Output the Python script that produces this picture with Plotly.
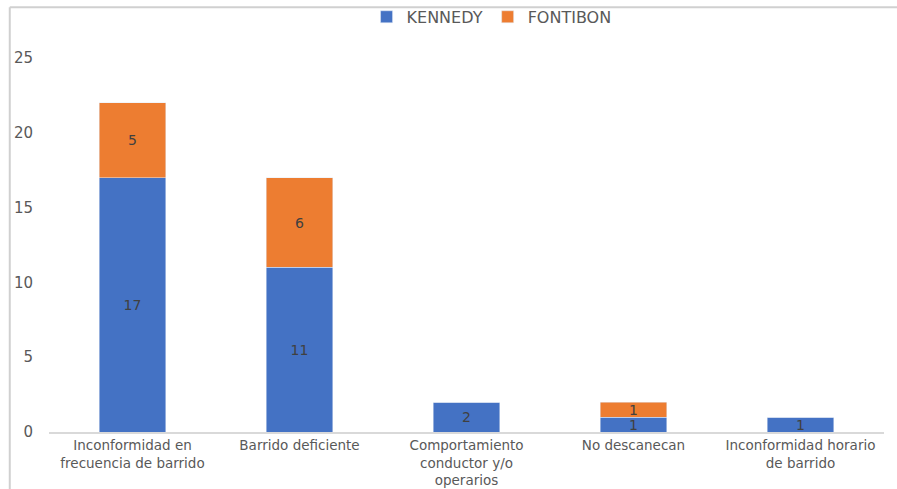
import plotly.graph_objects as go

categories = ["Inconformidad en<br>frecuencia de barrido", "Barrido deficiente",
              "Comportamiento<br>conductor y/o<br>operarios", "No descanecan",
              "Inconformidad horario<br>de barrido"]
kennedy = [17, 11, 2, 1, 1]
fontibon = [5, 6, 0, 1, 0]
fontibon_text = ["5", "6", "", "1", ""]
y_ticks = [0, 5, 10, 15, 20, 25]

font_family = "DejaVu Sans, Verdana, sans-serif"
fig = go.Figure()
fig.add_trace(go.Bar(name="KENNEDY", x=categories, y=kennedy, marker_color="#4472C4",
                     text=[str(v) for v in kennedy], textposition="inside",
                     insidetextanchor="middle", textangle=0,
                     textfont=dict(color="#404040", size=14, family=font_family)))
fig.add_trace(go.Bar(name="FONTIBON", x=categories, y=fontibon, marker_color="#ED7D31",
                     text=fontibon_text, textposition="inside", insidetextanchor="middle",
                     textangle=0,
                     textfont=dict(color="#404040", size=14, family=font_family)))

fig.update_layout(
    barmode="stack", bargap=0.6,
    width=897, height=489,
    margin=dict(l=49, r=13, t=58, b=57, autoexpand=False),
    paper_bgcolor="white", plot_bgcolor="white",
    font=dict(family=font_family, color="#595959", size=13.5),
    uniformtext=dict(minsize=8, mode="show"),
    legend=dict(orientation="h", x=0.53, xanchor="center", y=1.11, yanchor="middle",
                bgcolor="rgba(0,0,0,0)",
                font=dict(size=16, color="#595959"), itemwidth=30, traceorder="normal"),
    xaxis=dict(showline=True, linecolor="#d9d9d9", linewidth=1.5, ticks="",
               tickfont=dict(size=13.5, color="#595959")),
    yaxis=dict(range=[0, 25], tickvals=y_ticks, showgrid=False, zeroline=False,
               showline=False, ticklabelstandoff=15,
               tickfont=dict(size=15, color="#595959")),
    shapes=[
        dict(type="line", xref="paper", yref="paper", x0=-0.047, x1=1.02, y0=1.136, y1=1.136,
             line=dict(color="#d0d0d0", width=2)),
        dict(type="line", xref="paper", yref="paper", x0=-0.047, x1=-0.047, y0=-0.2, y1=1.136,
             line=dict(color="#d0d0d0", width=2)),
    ],
)
fig.write_html("out.html", config={"displayModeBar": False},
               post_script="document.body.style.margin='0';")
